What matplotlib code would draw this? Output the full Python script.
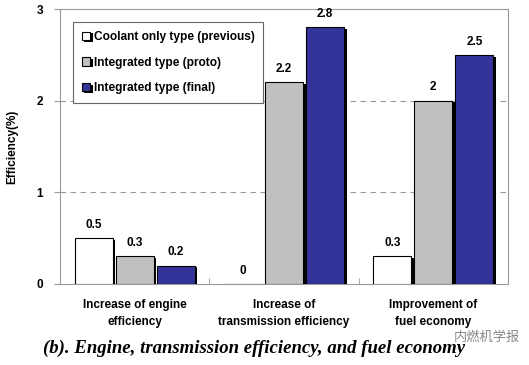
import numpy as np
import matplotlib.pyplot as plt
import matplotlib.patheffects as pe

plt.rcParams['font.family'] = ['Liberation Sans', 'Noto Sans CJK SC', 'DejaVu Sans']

# Données
categories = ['Increase of engine\nefficiency', 'Increase of\ntransmission efficiency',
              'Improvement of\nfuel economy']
series_names = ['Coolant only type (previous)', 'Integrated type (proto)', 'Integrated type (final)']
coolant = [0.5, 0.0, 0.3]
proto = [0.3, 2.2, 2.0]
final = [0.2, 2.8, 2.5]
labels_coolant = ['0.5', '0', '0.3']
labels_proto = ['0.3', '2.2', '2']
labels_final = ['0.2', '2.8', '2.5']
couleurs = ['white', '#c0c0c0', '#333399']

fig = plt.figure(figsize=(5.29, 3.65), dpi=100)
ax = fig.add_axes([0.1134, 0.222, 0.847, 0.753])

x = np.arange(len(categories))
w = 0.255
ombre = [pe.SimplePatchShadow(offset=(1.8, -1.2), shadow_rgbFace='black', alpha=1), pe.Normal()]

for i, (vals, labs) in enumerate(zip([coolant, proto, final],
                                     [labels_coolant, labels_proto, labels_final])):
    pos = x + (i - 1) * (w + 0.02)
    bars = ax.bar(pos, vals, w, color=couleurs[i], edgecolor='black', linewidth=0.8,
                  label=series_names[i], zorder=3)
    for b in bars:
        if b.get_height() > 0:
            b.set_path_effects(ombre)
    for p, v, t in zip(pos, vals, labs):
        ax.text(p, v + 0.08, t, ha='center', va='bottom', fontsize=8.5, fontweight='bold')

ax.set_xlim(-0.5, 2.5)
ax.set_ylim(0, 3)
ax.set_yticks([0, 1, 2, 3])
ax.set_yticklabels(['0', '1', '2', '3'], fontsize=8.5, fontweight='bold')
ax.set_xticks(x)
ax.set_xticklabels(categories, fontsize=8.5, fontweight='bold', linespacing=1.5)
ax.tick_params(axis='x', length=0, pad=11)
ax.set_xticks([0.5, 1.5], minor=True)
ax.tick_params(axis='x', which='minor', direction='in', length=4, color='#999999')
ax.tick_params(axis='y', direction='out', length=4, color='#999999', pad=8)
ax.set_ylabel('Efficiency(%)', fontsize=8.5, fontweight='bold', labelpad=13)

for y in [1, 2]:
    ax.axhline(y, color='#999999', linestyle=(0, (5, 4)), linewidth=0.8, zorder=1)

for s in ax.spines.values():
    s.set_color('#999999')
    s.set_linewidth(0.8)

leg = ax.legend(loc='upper left', bbox_to_anchor=(0.015, 0.975), prop={'weight': 'bold', 'size': 8.6},
                handlelength=0.7, handleheight=0.7, handletextpad=0.3, labelspacing=1.15,
                fancybox=False, edgecolor='#666666', framealpha=1, borderpad=0.75)
leg.get_frame().set_linewidth(0.8)

fig.text(0.48, 0.045, '(b). Engine, transmission efficiency, and fuel economy',
         ha='center', va='center', fontsize=13.5, fontweight='bold', style='italic',
         family='Liberation Serif')
fig.text(0.92, 0.075, '内燃机学报', ha='center', va='center', fontsize=9.5, color='#888888',
         family=['Noto Sans CJK SC'])

fig.savefig('out.png', dpi=100)
